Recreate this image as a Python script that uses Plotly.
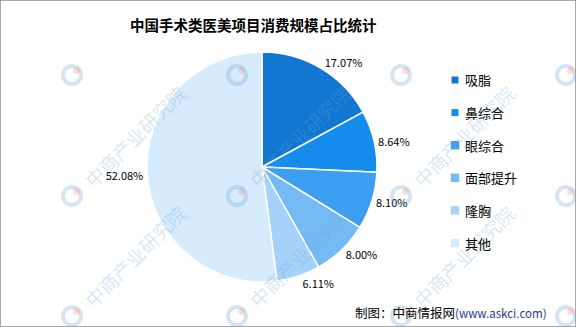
import plotly.graph_objects as go

labels = ["吸脂", "鼻综合", "眼综合", "面部提升", "隆胸", "其他"]
values = [17.07, 8.64, 8.10, 8.00, 6.11, 52.08]
colors = ["#1177D1", "#158BEE", "#3C9EF1", "#74BAF5", "#A4D2F8", "#D6EBFC"]
title = "中国手术类医美项目消费规模占比统计"
source_a = "制图：中商情报网"
source_b = "(www.askci.com)"
watermark = "中商产业研究院"

W, H = 576, 327
fig = go.Figure()

fig.add_trace(go.Pie(
    labels=labels, values=values, sort=False, direction="clockwise", rotation=0,
    marker=dict(colors=colors, line=dict(color="white", width=1.5)),
    texttemplate="%{value:.2f}%", textposition="outside",
    textfont=dict(family="Noto Sans CJK SC", size=11, color="#000"),
    showlegend=False, hoverinfo="label+value",
    domain=dict(x=[147 / W, 377 / W], y=[(H - 282) / H, (H - 52) / H]),
))

def px(x):
    return x / W

def py(y):
    return 1 - y / H

annotations = []
shapes = []

# watermark logos on a grid
for lx in [72, 237, 401, 566]:
    for ly in [75, 196, 316]:
        shapes.append(dict(type="circle", xref="paper", yref="paper",
                           x0=px(lx - 9), x1=px(lx + 9), y0=py(ly + 9), y1=py(ly - 9),
                           line=dict(color="rgba(110,165,215,0.3)", width=4)))
        shapes.append(dict(type="circle", xref="paper", yref="paper",
                           x0=px(lx + 1), x1=px(lx + 8), y0=py(ly - 1), y1=py(ly - 8),
                           fillcolor="rgba(240,160,140,0.35)", line=dict(width=0)))
# watermark texts (only where they fit inside the picture)
for lx in [72, 237, 401]:
    for ly in [196, 316]:
        annotations.append(dict(x=px(lx + 62), y=py(ly - 60), xref="paper", yref="paper",
                                xanchor="center", yanchor="middle", text=watermark,
                                showarrow=False, textangle=-45,
                                font=dict(family="Noto Sans CJK SC", size=19, color="rgba(110,165,215,0.28)")))

# legend built from labels/colors
leg_y0, leg_dy = 80, 32.6
for i, (lab, col) in enumerate(zip(labels, colors)):
    yc = leg_y0 + i * leg_dy
    s = 3.5 if i < 2 else 4.2
    shapes.append(dict(type="rect", xref="paper", yref="paper",
                       x0=px(455 - s), x1=px(455 + s), y0=py(yc + s), y1=py(yc - s),
                       fillcolor=col, line=dict(width=0)))
    annotations.append(dict(x=px(463), y=py(yc), xref="paper", yref="paper", xanchor="left", yanchor="middle",
                            text=lab, showarrow=False,
                            font=dict(family="Noto Sans CJK SC", size=13, color="#000")))

annotations += [
    dict(x=px(253), y=py(24), xref="paper", yref="paper", xanchor="center", yanchor="middle",
         text=f"<b>{title}</b>", showarrow=False,
         font=dict(family="Noto Sans CJK SC", size=14.5, color="#000")),
    dict(x=px(549), y=py(312), xref="paper", yref="paper", xanchor="right", yanchor="middle",
         text=f"{source_a}<span style='color:#1F3A93;font-size:11.5px'>{source_b}</span>", showarrow=False,
         font=dict(family="Noto Sans CJK SC", size=12.5, color="#000")),
]

shapes.append(dict(type="rect", xref="paper", yref="paper", x0=0, y0=0, x1=1, y1=1,
                   line=dict(color="#8A8A8A", width=1.5)))

fig.update_layout(
    width=W, height=H, margin=dict(l=0, r=0, t=0, b=0),
    paper_bgcolor="white", plot_bgcolor="rgba(0,0,0,0)",
    showlegend=False,
    annotations=annotations,
    shapes=shapes,
)

fig.write_html("out.html")
